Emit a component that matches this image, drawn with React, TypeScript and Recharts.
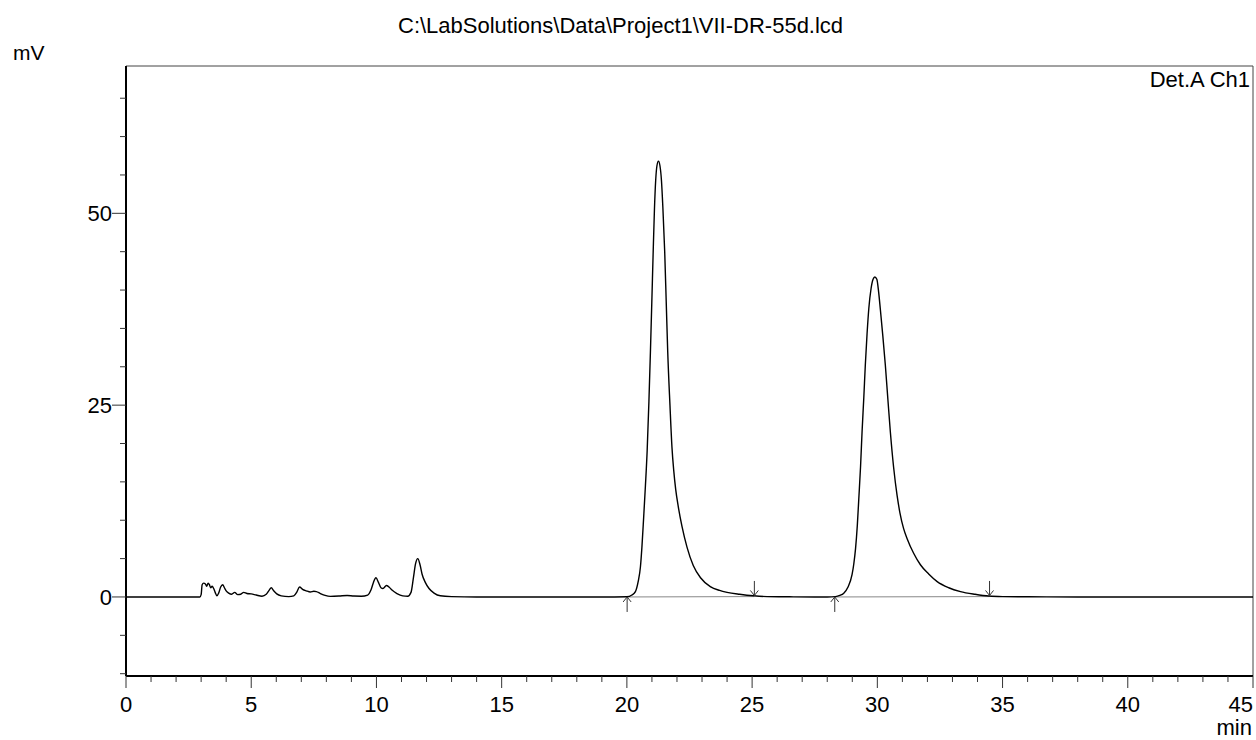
import { LineChart, Line, XAxis, YAxis, ReferenceLine, ReferenceDot } from 'recharts'

// chromatogram (min, mV)
const times = [
  0, 1, 2, 2.95, 3.0, 3.04, 3.1, 3.17, 3.22, 3.28, 3.33, 3.38, 3.44, 3.5, 3.56, 3.63, 3.7, 3.78, 3.86, 3.93,
  4.0, 4.1, 4.22, 4.34, 4.46, 4.58, 4.7, 4.83, 5.0, 5.2, 5.43, 5.6, 5.72, 5.8, 5.9, 6.02, 6.2, 6.5, 6.7, 6.83,
  6.93, 7.05, 7.2, 7.36, 7.5, 7.6, 7.76, 7.95, 8.16, 8.5, 8.83, 9.1, 9.4, 9.65, 9.78, 9.88, 9.98, 10.08, 10.18, 10.26,
  10.4, 10.5, 10.62, 10.82, 11.05, 11.25, 11.38, 11.48, 11.56, 11.65, 11.74, 11.82, 11.95, 12.1, 12.3, 12.55, 13, 14, 16, 18,
  19.5, 20.0, 20.2, 20.34, 20.45, 20.54, 20.6, 20.67, 20.74, 20.81, 20.88, 20.94, 21.0, 21.05, 21.1, 21.15, 21.2, 21.26, 21.32, 21.38,
  21.44, 21.51, 21.57, 21.63, 21.72, 21.8, 21.87, 21.95, 22.05, 22.2, 22.4, 22.65, 22.94, 23.33, 23.7, 24.0, 24.5, 25.06, 25.6, 26.5,
  27.5, 28.0, 28.33, 28.5, 28.66, 28.83, 28.99, 29.06, 29.13, 29.2, 29.26, 29.33, 29.39, 29.46, 29.52, 29.59, 29.66, 29.75, 29.83, 29.9,
  29.98, 30.05, 30.12, 30.22, 30.32, 30.42, 30.52, 30.65, 30.79, 30.9, 31.05, 31.19, 31.45, 31.72, 32.05, 32.39, 32.85, 33.32, 33.9, 34.45,
  35, 36, 38, 40, 42, 45,
]

const signal = [
  0, 0, 0, 0, 0.3, 1.6, 1.8, 1.7, 1.4, 1.8, 1.6, 1.2, 1.4, 1.1, 0.6, 0.15, 0.5, 1.3, 1.6, 1.2,
  0.8, 0.5, 0.35, 0.6, 0.3, 0.35, 0.6, 0.45, 0.4, 0.25, 0.1, 0.35, 0.9, 1.2, 0.8, 0.4, 0.15, 0.05, 0.15, 0.7,
  1.3, 1.0, 0.8, 0.65, 0.75, 0.7, 0.45, 0.2, 0.08, 0.12, 0.2, 0.12, 0.1, 0.25, 0.9, 1.9, 2.5, 1.9, 1.2, 1.1,
  1.5, 1.3, 0.9, 0.45, 0.15, 0.1, 0.6, 2.6, 4.3, 5.0, 4.2, 3.0, 1.9, 1.1, 0.5, 0.15, 0.05, 0, 0, 0,
  0, 0.02, 0.25, 0.7, 2.0, 3.9, 6.5, 10.4, 14.5, 19.1, 25.5, 32, 39, 45, 50.5, 54.3, 56.2, 56.8, 56.2, 54.3,
  50.5, 45, 38.5, 32, 25, 19.5, 16.5, 14.0, 11.8, 9.2, 6.5, 4.1, 2.5, 1.35, 0.85, 0.6, 0.35, 0.15, 0.05, 0.02,
  0, 0, 0.05, 0.2, 0.5, 1.3, 2.9, 4.3, 6.3, 9.3, 12.8, 17, 21.5, 26, 30.2, 34.3, 37.6, 40.2, 41.4, 41.7,
  41.4, 39.8, 37.5, 34, 30.2, 25.8, 21.5, 16.9, 13.2, 11.0, 8.9, 7.6, 5.7, 4.2, 3.0, 2.0, 1.2, 0.7, 0.35, 0.12,
  0.05, 0.02, 0, 0, 0, 0,
]

// peak start / end marks
const markTimes = [20.01, 25.09, 28.3, 34.48]
const markDirs = ['up', 'down', 'up', 'down']

const xTicks = Array.from({ length: 46 }, (_, i) => i)
const yTicks = [-10, -5, 0, 5, 10, 15, 20, 25, 30, 35, 40, 45, 50, 55, 60, 65]

const data = times.map((t, i) => ({ t, mv: signal[i] }))

const FONT = 'Arial, "Liberation Sans", sans-serif'
const FS = 22

function XTick(props: any) {
  const { x, y, payload } = props
  const v = payload.value
  const major = v % 5 === 0
  return (
    <g>
      <line x1={x} x2={x} y1={y} y2={y + (major ? 12 : 6)} stroke="#333" strokeWidth={1} />
      {major && (
        <text
          x={x}
          y={y + 36}
          textAnchor={v === 45 ? 'end' : 'middle'}
          fontSize={FS}
          fontFamily={FONT}
          fill="#000"
        >
          {v}
        </text>
      )}
    </g>
  )
}

function YTick(props: any) {
  const { x, y, payload } = props
  const v = payload.value
  const major = v % 25 === 0
  return (
    <g>
      <line x1={x - (major ? 14 : 6)} x2={x} y1={y} y2={y} stroke="#333" strokeWidth={1} />
      {major && (
        <text x={x - 14} y={y + 8} textAnchor="end" fontSize={FS} fontFamily={FONT} fill="#000">
          {v}
        </text>
      )}
    </g>
  )
}

function Arrow(props: any) {
  const { cx, cy, dir } = props
  if (dir === 'up') {
    return (
      <g stroke="#333" strokeWidth={1} fill="none">
        <line x1={cx} x2={cx} y1={cy} y2={cy + 15} />
        <polyline points={`${cx - 4},${cy + 5} ${cx},${cy} ${cx + 4},${cy + 5}`} />
      </g>
    )
  }
  return (
    <g stroke="#333" strokeWidth={1} fill="none">
      <line x1={cx} x2={cx} y1={cy - 16} y2={cy - 1.5} />
      <polyline points={`${cx - 4},${cy - 6.5} ${cx},${cy - 1.5} ${cx + 4},${cy - 6.5}`} />
    </g>
  )
}

export default function App() {
  const yMin = -10.3
  const yMax = 69.2

  return (
    <div style={{ position: 'absolute', left: 0, top: 0, width: 1256, height: 740, background: '#fff' }}>
      <LineChart width={1256} height={740} data={data} margin={{ top: 66, right: 3, left: 0, bottom: 0 }}>
        <XAxis
          dataKey="t"
          type="number"
          domain={[0, 45]}
          ticks={xTicks}
          interval={0}
          height={64}
          tickSize={0}
          tickMargin={0}
          tickLine={false}
          axisLine={{ stroke: '#000', strokeWidth: 2 }}
          tick={<XTick />}
        />
        <YAxis
          type="number"
          domain={[yMin, yMax]}
          allowDataOverflow
          ticks={yTicks}
          interval={0}
          width={126}
          tickSize={0}
          tickMargin={0}
          tickLine={false}
          axisLine={{ stroke: '#000', strokeWidth: 2 }}
          tick={<YTick />}
        />
        <ReferenceLine y={yMax} stroke="#444" strokeWidth={1} />
        <ReferenceLine x={45} stroke="#444" strokeWidth={1} />
        <ReferenceLine
          segment={[{ x: markTimes[0], y: 0 }, { x: markTimes[1], y: 0.05 }]}
          stroke="#888"
          strokeWidth={1}
        />
        <ReferenceLine
          segment={[{ x: markTimes[2], y: 0 }, { x: markTimes[3], y: 0.05 }]}
          stroke="#888"
          strokeWidth={1}
        />
        <Line
          type="monotone"
          dataKey="mv"
          stroke="#000"
          strokeWidth={1.4}
          dot={false}
          isAnimationActive={false}
        />
        {markTimes.map((t, i) => (
          <ReferenceDot
            key={t}
            x={t}
            y={0}
            r={0}
            shape={(p: any) => <Arrow cx={p.cx} cy={p.cy} dir={markDirs[i]} />}
          />
        ))}
      </LineChart>
      <svg
        width={1256}
        height={740}
        style={{ position: 'absolute', left: 0, top: 0, pointerEvents: 'none' }}
        fontFamily={FONT}
        fontSize={FS}
      >
        <text x={398} y={33} fill="#000">
          {'C:\\LabSolutions\\Data\\Project1\\VII-DR-55d.lcd'}
        </text>
        <text x={13} y={60} fill="#000" fontSize={21}>
          mV
        </text>
        <text x={1250} y={87} textAnchor="end" fill="#000">
          Det.A Ch1
        </text>
        <text x={1252} y={735} textAnchor="end" fill="#000">
          min
        </text>
      </svg>
    </div>
  )
}
